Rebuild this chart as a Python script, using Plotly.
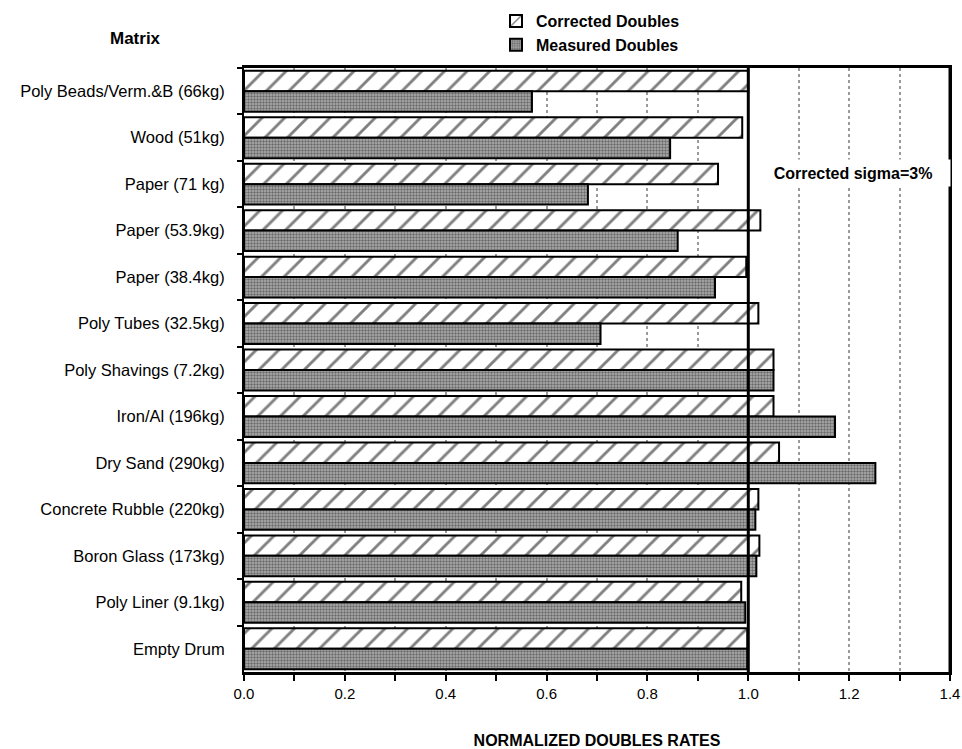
import plotly.graph_objects as go

# Drum matrices, listed top to bottom
matrices = [
    "Poly Beads/Verm.&B (66kg)",
    "Wood (51kg)",
    "Paper (71 kg)",
    "Paper (53.9kg)",
    "Paper (38.4kg)",
    "Poly Tubes (32.5kg)",
    "Poly Shavings (7.2kg)",
    "Iron/Al (196kg)",
    "Dry Sand (290kg)",
    "Concrete Rubble (220kg)",
    "Boron Glass (173kg)",
    "Poly Liner (9.1kg)",
    "Empty Drum",
]

corrected = [1.00, 0.988, 0.94, 1.024, 0.996, 1.02, 1.05, 1.05, 1.061, 1.02, 1.022, 0.986, 0.998]
measured = [0.571, 0.845, 0.682, 0.86, 0.934, 0.707, 1.05, 1.172, 1.252, 1.014, 1.016, 0.994, 0.998]

x_ticks = [0.0, 0.2, 0.4, 0.6, 0.8, 1.0, 1.2, 1.4]

FONT = "Liberation Sans, Arial, sans-serif"

# plot area in pixels
L, R, T, B = 244, 950, 68, 672
W, H = 962, 749
PW, PH = R - L, B - T

fig = go.Figure()

fig.add_trace(go.Bar(
    name="Corrected Doubles",
    y=matrices,
    x=corrected,
    orientation="h",
    marker=dict(
        color="white",
        line=dict(color="black", width=2),
        pattern=dict(shape="/", fgcolor="black", bgcolor="white",
                     size=16, solidity=0.18, fillmode="overlay"),
    ),
))

fig.add_trace(go.Bar(
    name="Measured Doubles",
    y=matrices,
    x=measured,
    orientation="h",
    marker=dict(
        color="#b0b0b0",
        line=dict(color="black", width=2),
        pattern=dict(shape=".", fgcolor="#262626", bgcolor="#b0b0b0",
                     size=3, solidity=0.5, fillmode="overlay"),
    ),
))

# Reference line at a normalized rate of 1.0
fig.add_shape(type="line", xref="x", yref="paper", x0=1.0, x1=1.0, y0=0, y1=1,
              line=dict(color="black", width=3), layer="above")
# Right frame edge at 1.4
fig.add_shape(type="line", xref="x", yref="paper", x0=1.4, x1=1.4, y0=0, y1=1,
              line=dict(color="black", width=3), layer="above")

fig.add_annotation(
    text="<b>Corrected sigma=3%</b>", xref="x", yref="paper",
    x=(853 - L) / PW * 1.4, y=1 - (159 - T) / PH, showarrow=False,
    font=dict(family=FONT, size=16, color="black"),
    bgcolor="white", width=192, height=24,
)

fig.add_annotation(
    text="<b>Matrix</b>", xref="paper", yref="paper",
    x=(135 - L) / PW, y=1 + (T - 38) / PH, showarrow=False,
    xanchor="center", yanchor="middle",
    font=dict(family=FONT, size=17, color="black"),
)

fig.update_layout(
    width=W, height=H,
    margin=dict(l=L, r=W - R, t=T, b=H - B, autoexpand=False),
    paper_bgcolor="white", plot_bgcolor="white",
    barmode="group", bargap=0.12, bargroupgap=0.0,
    font=dict(family=FONT, size=15, color="black"),
    showlegend=True,
    legend=dict(
        x=(496 - L) / PW, xanchor="left",
        y=1 + (T - 4) / PH, yanchor="top",
        traceorder="normal",
        font=dict(family=FONT, size=16, color="black", weight="bold"),
        bgcolor="rgba(0,0,0,0)",
        tracegroupgap=0,
    ),
    xaxis=dict(
        automargin=False,
        range=[0, 1.4], tickvals=x_ticks,
        ticktext=[f"{v:.1f}" for v in x_ticks],
        ticks="outside", ticklen=6, tickwidth=2, tickcolor="black",
        minor=dict(dtick=0.1, tick0=0, ticks="outside", ticklen=6,
                   tickwidth=1.5, tickcolor="black",
                   showgrid=True, gridcolor="#9a9a9a", griddash="dot", gridwidth=1.5),
        showgrid=True, gridcolor="#9a9a9a", griddash="dot", gridwidth=1.5,
        showline=True, linecolor="black", linewidth=3, mirror=True,
        zeroline=False,
        title=dict(text="<b>NORMALIZED DOUBLES RATES</b>", standoff=36,
                   font=dict(family=FONT, size=16, color="black")),
        tickfont=dict(family=FONT, size=15, color="black"),
    ),
    yaxis=dict(
        automargin=False,
        categoryorder="array", categoryarray=matrices,
        autorange="reversed",
        tickson="boundaries", ticks="outside", ticklen=5, tickwidth=2,
        tickcolor="black",
        showgrid=False,
        showline=True, linecolor="black", linewidth=2, mirror=True,
        ticklabelstandoff=14,
        tickfont=dict(family=FONT, size=16.5, color="black"),
    ),
)

fig.write_html("out.html")
